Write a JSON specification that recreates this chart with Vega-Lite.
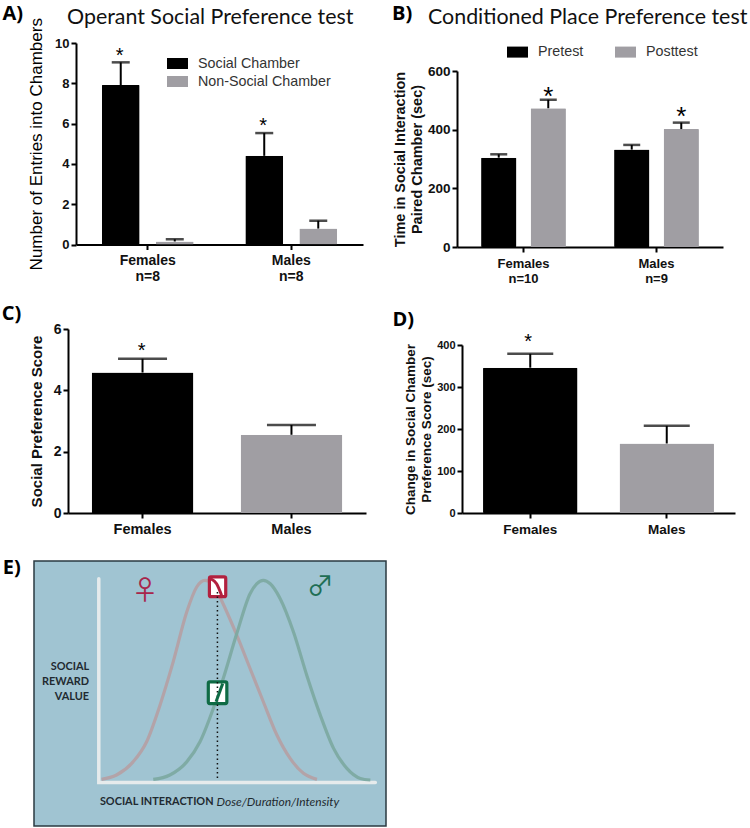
{"$schema":"https://vega.github.io/schema/vega-lite/v6.json","background":"white","padding":{"left":1,"top":4,"right":0,"bottom":0},"config":{"view":{"stroke":null},"axis":{"grid":false,"domainColor":"#000","domainWidth":2,"tickColor":"#000","tickWidth":2,"tickSize":5,"labelFont":"Liberation Sans","labelFontWeight":"bold","labelColor":"#111","titleFont":"Liberation Sans","titleFontWeight":"bold","titleColor":"#111","labelAngle":0},"legend":{"orient":"none","title":null,"padding":0,"labelFont":"Liberation Sans","labelFontSize":14.3,"labelColor":"#333","symbolType":"M-1.105,-0.58H1.105V0.58H-1.105Z","symbolSize":361,"symbolStrokeWidth":0,"labelOffset":11,"rowPadding":1}},
"resolve":{"scale":{"color":"independent","xOffset":"independent"},"legend":{"color":"independent"}},
"vconcat":[{"resolve":{"scale":{"color":"independent","xOffset":"independent"},"legend":{"color":"independent"}},"concat":[
{"width":352,"height":204,"title":{"text":"Operant Social Preference test","font":"Lato","fontSize":21.4,"fontWeight":"normal","anchor":"start","frame":"group","dx":33,"offset":-24,"color":"#111"},
"data":{"values":[{"group":"Females","chamber":"Social Chamber","mean":7.91,"top":9.04,"star":9.6},{"group":"Females","chamber":"Non-Social Chamber","mean":0.15,"top":0.26},{"group":"Males","chamber":"Social Chamber","mean":4.4,"top":5.53,"star":6.14},{"group":"Males","chamber":"Non-Social Chamber","mean":0.79,"top":1.18}]},
"encoding":{"x":{"field":"group","type":"nominal","scale":{"range":[42,329],"paddingInner":0.36,"paddingOuter":0.18},"axis":{"title":null,"offset":-2.5,"labelFontSize":14,"labelPadding":4,"labelLineHeight":16,"labelExpr":"[datum.label,'n=8']"}},"xOffset":{"field":"chamber","type":"nominal","scale":{"domain":["Social Chamber","Non-Social Chamber"],"paddingInner":0.3}}},
"layer":[
{"mark":{"type":"bar","cornerRadius":1},"encoding":{"y":{"field":"mean","type":"quantitative","scale":{"domain":[0,10],"range":[201.5,0],"nice":false},"axis":{"title":"Number of Entries into Chambers","titleFontWeight":"normal","titleFontSize":17,"titleColor":"#000","values":[0,2,4,6,8,10],"labelFontSize":13,"offset":-42,"titlePadding":9}},"color":{"field":"chamber","type":"nominal","scale":{"domain":["Social Chamber","Non-Social Chamber"],"range":["#000000","#a09ea3"]},"legend":{"legendX":134,"legendY":11}}}},
{"mark":{"type":"rule","strokeWidth":2,"color":"#000"},"encoding":{"y":{"field":"mean","type":"quantitative"},"y2":{"field":"top"}}},
{"mark":{"type":"tick","size":18,"thickness":2.5,"color":"#000"},"encoding":{"y":{"field":"top","type":"quantitative"}}},
{"transform":[{"filter":"isValid(datum.star)"}],"mark":{"type":"text","text":"*","font":"Liberation Sans","fontSize":20,"baseline":"alphabetic","dy":11,"dx":-1,"color":"#000"},"encoding":{"y":{"field":"star","type":"quantitative"}}},
{"data":{"values":[{"group":"Females","value":10,"letter":"A)"}]},"mark":{"type":"text","font":"Open Sans","fontWeight":"bold","fontSize":20,"dx":-89,"dy":-29,"color":"#000"},"encoding":{"xOffset":{"value":0},"y":{"field":"value","type":"quantitative"},"text":{"field":"letter"}}}
]},
{"width":266,"height":204,"title":{"text":"Conditioned Place Preference test","font":"Lato","fontSize":21.4,"fontWeight":"normal","anchor":"start","frame":"group","dx":-29,"offset":-24,"color":"#111"},
"data":{"values":[{"group":"Females","phase":"Pretest","mean":304.5,"top":316},{"group":"Females","phase":"Posttest","mean":473,"top":502,"star":533},{"group":"Males","phase":"Pretest","mean":332,"top":348},{"group":"Males","phase":"Posttest","mean":402,"top":424,"star":465}]},
"encoding":{"x":{"field":"group","type":"nominal","scale":{"paddingInner":0.362,"paddingOuter":0.181},"axis":{"title":null,"labelFontSize":13,"labelPadding":5,"labelLineHeight":15,"labelExpr":"[datum.label, datum.label=='Females' ? 'n=10' : 'n=9']"}},"xOffset":{"field":"phase","type":"nominal","scale":{"domain":["Pretest","Posttest"],"paddingInner":0.287}}},
"layer":[
{"mark":{"type":"bar","cornerRadius":1},"encoding":{"y":{"field":"mean","type":"quantitative","scale":{"domain":[0,600],"range":[204,28],"nice":false},"axis":{"title":["Time in Social Interaction","Paired Chamber (sec)"],"titleFontSize":14.5,"titleLineHeight":17,"values":[0,200,400,600],"labelFontSize":13.5,"titlePadding":3}},"color":{"field":"phase","type":"nominal","scale":{"domain":["Pretest","Posttest"],"range":["#000000","#a09ea3"]},"legend":{"legendX":51,"legendY":-0.5,"columns":2,"columnPadding":31}}}},
{"mark":{"type":"rule","strokeWidth":2,"color":"#000"},"encoding":{"y":{"field":"mean","type":"quantitative"},"y2":{"field":"top"}}},
{"mark":{"type":"tick","size":17,"thickness":2.5,"color":"#000"},"encoding":{"y":{"field":"top","type":"quantitative"}}},
{"transform":[{"filter":"isValid(datum.star)"}],"mark":{"type":"text","text":"*","font":"Liberation Sans","fontSize":26,"baseline":"alphabetic","dy":14,"color":"#000"},"encoding":{"y":{"field":"star","type":"quantitative"}}},
{"data":{"values":[{"group":"Females","value":600,"letter":"B)"}]},"mark":{"type":"text","font":"Open Sans","fontWeight":"bold","fontSize":20,"dx":-79,"dy":-57,"color":"#000"},"encoding":{"xOffset":{"value":0},"y":{"field":"value","type":"quantitative"},"text":{"field":"letter"}}}
]},
{"width":352,"height":184,
"data":{"values":[{"group":"Females","mean":4.58,"top":5.03,"star":5.46},{"group":"Males","mean":2.55,"top":2.87}]},
"encoding":{"x":{"field":"group","type":"nominal","scale":{"range":[34,332],"paddingInner":0.317,"paddingOuter":0.159},"axis":{"title":null,"labelFontSize":14.5,"labelPadding":4}}},
"layer":[
{"mark":{"type":"bar","cornerRadius":1},"encoding":{"y":{"field":"mean","type":"quantitative","scale":{"domain":[0,6],"nice":false},"axis":{"title":"Social Preference Score","titleFontSize":15,"values":[0,2,4,6],"labelFontSize":14,"offset":-34,"titlePadding":9}},"color":{"field":"group","type":"nominal","scale":{"domain":["Females","Males"],"range":["#000000","#a09ea3"]},"legend":null}}},
{"mark":{"type":"rule","strokeWidth":2,"color":"#000"},"encoding":{"y":{"field":"mean","type":"quantitative"},"y2":{"field":"top"}}},
{"mark":{"type":"tick","size":49,"thickness":2.5,"color":"#000"},"encoding":{"y":{"field":"top","type":"quantitative"}}},
{"transform":[{"filter":"isValid(datum.star)"}],"mark":{"type":"text","text":"*","font":"Liberation Sans","fontSize":20,"baseline":"alphabetic","dy":11,"dx":-1,"color":"#000"},"encoding":{"y":{"field":"star","type":"quantitative"}}},
{"data":{"values":[{"group":"Females","value":6,"letter":"C)"}]},"mark":{"type":"text","font":"Open Sans","fontWeight":"bold","fontSize":20,"dx":-131,"dy":-15,"color":"#000"},"encoding":{"y":{"field":"value","type":"quantitative"},"text":{"field":"letter"}}}
]},
{"width":278,"height":184,
"data":{"values":[{"group":"Females","mean":346,"top":379,"star":418},{"group":"Males","mean":165.5,"top":207.5}]},
"encoding":{"x":{"field":"group","type":"nominal","scale":{"range":[5,278],"paddingInner":0.308,"paddingOuter":0.154},"axis":{"title":null,"labelFontSize":13.5,"labelPadding":4}}},
"layer":[
{"mark":{"type":"bar","cornerRadius":1},"encoding":{"y":{"field":"mean","type":"quantitative","scale":{"domain":[0,400],"range":[184,16],"nice":false},"axis":{"title":["Change in Social Chamber","Preference Score (sec)"],"titleFontSize":13.5,"titleLineHeight":16,"values":[0,100,200,300,400],"labelFontSize":11,"offset":-5,"titlePadding":3}},"color":{"field":"group","type":"nominal","scale":{"domain":["Females","Males"],"range":["#000000","#a09ea3"]},"legend":null}}},
{"mark":{"type":"rule","strokeWidth":2,"color":"#000"},"encoding":{"y":{"field":"mean","type":"quantitative"},"y2":{"field":"top"}}},
{"mark":{"type":"tick","size":46,"thickness":2.5,"color":"#000"},"encoding":{"y":{"field":"top","type":"quantitative"}}},
{"transform":[{"filter":"isValid(datum.star)"}],"mark":{"type":"text","text":"*","font":"Liberation Sans","fontSize":20,"baseline":"alphabetic","dy":11,"dx":-2,"color":"#000"},"encoding":{"y":{"field":"star","type":"quantitative"}}},
{"data":{"values":[{"group":"Females","value":400,"letter":"D)"}]},"mark":{"type":"text","font":"Open Sans","fontWeight":"bold","fontSize":20,"dx":-127,"dy":-25,"color":"#000"},"encoding":{"y":{"field":"value","type":"quantitative"},"text":{"field":"letter"}}}
]}
],"columns":2,"bounds":"flush","align":"each","spacing":{"column":71,"row":82}},
{"width":352,"height":265,"view":{"fill":"#a0c4d2","stroke":"#2a3a42","strokeWidth":1.5},
"encoding":{"x":{"field":"dose","type":"quantitative","scale":{"domain":[-23.43,103.86],"nice":false,"zero":false},"axis":null},"y":{"field":"reward","type":"quantitative","scale":{"domain":[-21.8,109.6],"nice":false,"zero":false},"axis":null}},
"layer":[
{"data":{"values":[{"rank":1,"dose":0,"reward":100.8},{"rank":2,"dose":0,"reward":-0.2},{"rank":3,"dose":100,"reward":-0.2}]},"mark":{"type":"line","color":"#e6ebec","strokeWidth":3.5,"strokeCap":"round","strokeJoin":"miter"},"encoding":{"order":{"field":"rank"}}},
{"data":{"values":[{"dose":1,"reward":1.3},{"dose":6.4,"reward":3.5},{"dose":12.4,"reward":10},{"dose":17.3,"reward":20},{"dose":22.1,"reward":38},{"dose":26.9,"reward":59.6},{"dose":31.8,"reward":84.3},{"dose":35.4,"reward":96.7},{"dose":38.4,"reward":100},{"dose":41.4,"reward":98.3},{"dose":44.4,"reward":90},{"dose":49.9,"reward":72.8},{"dose":54.7,"reward":56.3},{"dose":59.5,"reward":39.8},{"dose":64.4,"reward":23.3},{"dose":69.2,"reward":11.7},{"dose":74,"reward":4.3},{"dose":78.9,"reward":1.3}]},"mark":{"type":"line","interpolate":"monotone","color":"#b3a3a8","strokeWidth":3.2}},
{"data":{"values":[{"dose":19.7,"reward":1.3},{"dose":25.7,"reward":3.5},{"dose":31.8,"reward":10},{"dose":36.6,"reward":20},{"dose":41.4,"reward":36.5},{"dose":45,"reward":51.3},{"dose":49.9,"reward":73.6},{"dose":54.7,"reward":93.4},{"dose":57.1,"reward":98.3},{"dose":59.5,"reward":100},{"dose":62,"reward":98.3},{"dose":65.6,"reward":90.9},{"dose":70.4,"reward":74.4},{"dose":75.2,"reward":53},{"dose":80.1,"reward":33.2},{"dose":84.9,"reward":16.7},{"dose":89.7,"reward":6.8},{"dose":94.6,"reward":1.8},{"dose":98.2,"reward":1}]},"mark":{"type":"line","interpolate":"monotone","color":"#7ba8a0","strokeWidth":3.2,"opacity":0.9}},
{"data":{"values":[{"dose":40,"dose2":45.9,"reward":101.7,"reward2":91.9,"c":"f"},{"dose":39.6,"dose2":46.3,"reward":49.7,"reward2":38.9,"c":"m"}]},"mark":{"type":"rect","fill":"#ffffff","strokeWidth":3.2,"cornerRadius":1.5},"encoding":{"x2":{"field":"dose2"},"y2":{"field":"reward2"},"stroke":{"field":"c","type":"nominal","scale":{"domain":["f","m"],"range":["#b2213f","#0f6b45"]},"legend":null}}},
{"data":{"values":[{"dose":42.9,"reward":94.2},{"dose":42.9,"reward":1}]},"mark":{"type":"line","color":"#111","strokeWidth":1.5,"strokeDash":[1.5,3]}},
{"data":{"values":[{"dose":40.5,"reward":100.8},{"dose":42.6,"reward":98.3},{"dose":44.4,"reward":92.6}]},"mark":{"type":"line","interpolate":"monotone","color":"#b2213f","strokeWidth":3}},
{"data":{"values":[{"dose":42.4,"reward":39.8},{"dose":44.8,"reward":48.8}]},"mark":{"type":"line","color":"#0f6b45","strokeWidth":3}},
{"data":{"values":[{"dose":16.7,"reward":94.2,"t":"♀","c":"#a8254a"},{"dose":80.1,"reward":96.2,"t":"♂","c":"#1f6f55"}]},"mark":{"type":"text","font":"Noto Sans CJK JP","fontSize":27},"encoding":{"text":{"field":"t"},"color":{"field":"c","type":"nominal","scale":null}}},
{"data":{"values":[{"dose":-3.5,"reward":56.8,"t":"SOCIAL"},{"dose":-3.5,"reward":49.4,"t":"REWARD"},{"dose":-3.5,"reward":42.1,"t":"VALUE"}]},"mark":{"type":"text","font":"Lato","fontWeight":"bold","fontSize":10.9,"align":"right","color":"#1f2a30"},"encoding":{"text":{"field":"t"}}},
{"data":{"values":[{"dose":0.4,"reward":-10.1,"t":"SOCIAL INTERACTION"}]},"mark":{"type":"text","font":"Lato","fontWeight":"bold","fontSize":10.9,"align":"left","color":"#1f2a30"},"encoding":{"text":{"field":"t"}}},
{"data":{"values":[{"dose":42.6,"reward":-10.1,"t":"Dose/Duration/Intensity"}]},"mark":{"type":"text","font":"Lato","fontStyle":"italic","fontSize":12,"align":"left","color":"#1f2a30"},"encoding":{"text":{"field":"t"}}},
{"data":{"values":[{"dose":-31.5,"reward":106,"t":"E)"}]},"mark":{"type":"text","font":"Open Sans","fontWeight":"bold","fontSize":20,"color":"#000"},"encoding":{"text":{"field":"t"}}}
]}
],"spacing":21}
